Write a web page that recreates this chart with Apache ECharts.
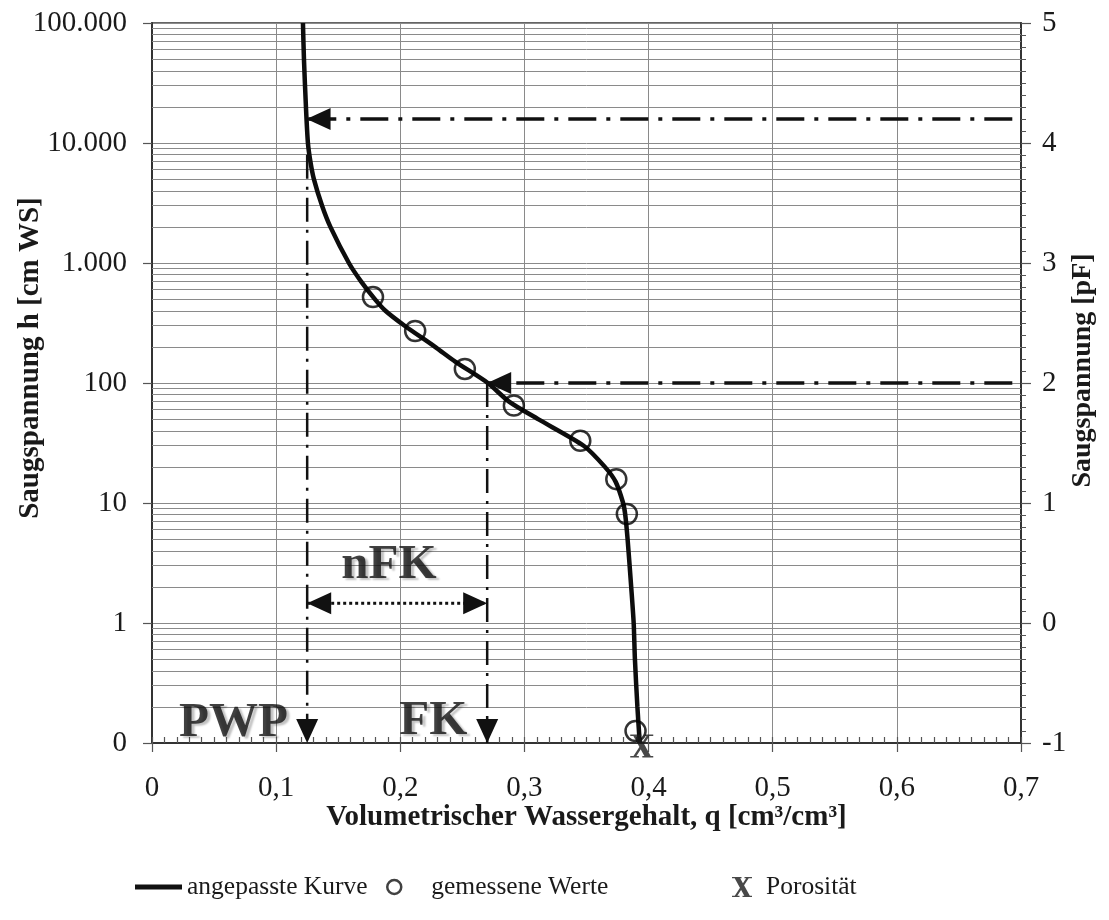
<!DOCTYPE html>
<html><head><meta charset="utf-8">
<script src="https://cdn.jsdelivr.net/npm/echarts@6/dist/echarts.min.js"></script>
<style>html,body{margin:0;padding:0;background:#fff}#c{width:1109px;height:920px}</style>
</head><body><div id="c"></div>
<script>
// ---- data ----
const curveH     = [100000, 50000, 20000, 10000, 7000, 5000, 3000, 2000, 1000, 700, 500, 400, 300, 200, 150, 100, 70, 50, 30, 20, 15, 10, 8, 5, 2, 1, 0.5, 0.2, 0.1];
const curveTheta = [0.1216, 0.1224, 0.124, 0.1256, 0.1276, 0.1304, 0.137, 0.1437, 0.1586, 0.1685, 0.1795, 0.188, 0.2035, 0.228, 0.2445, 0.2705, 0.2876, 0.311, 0.3477, 0.3648, 0.3735, 0.3795, 0.3812, 0.3831, 0.386, 0.388, 0.389, 0.391, 0.3929];
const measuredTheta = [0.178, 0.212, 0.252, 0.2915, 0.345, 0.374, 0.3825, 0.3895];
const measuredH     = [520, 271, 131, 65, 33, 15.8, 8.1, 0.126];
const porosityTheta = [0.3945];
const porosityH     = [0.1];
const pwpTheta = 0.125, fkTheta = 0.27;
const pf42H = 15849, pf2H = 100, nfkH = 1.46;
const guideRightTheta = 0.693, pwpTopH = 8000, axisMinH = 0.1;
const annoNames = ['PWP', 'FK', 'nFK'];
const annoTheta = [0.0656, 0.2266, 0.1908];
const annoH     = [0.158, 0.163, 3.29];
const xTickLabels = ['0', '0,1', '0,2', '0,3', '0,4', '0,5', '0,6', '0,7'];
const decades = [0.1, 1, 10, 100, 1000, 10000];
const minorFactors = [2, 3, 4, 5, 6, 7, 8, 9];
const legendNames = ['angepasste Kurve', 'gemessene Werte', 'Porosität'];

// ---- build ----
const serif = "'Liberation Serif', 'Times New Roman', 'DejaVu Serif', serif";
const txt = '#1a1a1a';
const gridLines = [];
decades.forEach(d => minorFactors.forEach(k => gridLines.push({ yAxis: +(k * d).toPrecision(3) })));
const curveData = curveTheta.map((t, i) => [t, curveH[i]]);
const measuredData = measuredTheta.map((t, i) => [t, measuredH[i]]);
const porosityData = porosityTheta.map((t, i) => [t, porosityH[i]]);
const annoData = annoNames.map((n, i) => ({ name: n, value: [annoTheta[i], annoH[i]] }));
const AR = [22, 24];
function arrow(x, y, dir) {
  const rot = { left: 90, right: -90, down: 180, up: 0 }[dir];
  const off = { left: [12, 0], right: [-12, 0], down: [0, -12], up: [0, 12] }[dir];
  return { value: [x, y], symbol: 'triangle', symbolSize: AR, symbolRotate: rot, symbolOffset: off };
}
function plain(x, y) { return { value: [x, y], symbol: 'none' }; }
const dashDotV = { color: '#111', width: 2.5, type: [24, 8, 3, 8] };
const dashDotH = { color: '#111', width: 3.5, type: [28, 10, 4, 10] };
const guide = (name, data, ls) => ({
  type: 'line', name, data, lineStyle: ls, itemStyle: { color: '#111' }, showSymbol: true,
  symbolKeepAspect: false, z: 4, silent: true, clip: false
});
const Xpath = 'path://M2,0H7.5L18.5,20H13Z M15,0H17.5L4.5,20H2Z M0,0H9.5V1.2H0Z M12.5,0H20V1.2H12.5Z M0,18.8H7.5V20H0Z M10.5,18.8H20V20H10.5Z';
const legendText = { fontFamily: serif, fontSize: 25.5, color: txt };

const chart = echarts.init(document.getElementById('c'), null, { renderer: 'canvas' });
chart.setOption({
  animation: false,
  backgroundColor: '#fff',
  textStyle: { fontFamily: serif, color: txt },
  grid: { left: 152, right: 88, top: 23, bottom: 177, show: true, borderColor: '#333', borderWidth: 1.5,
    containLabel: false, outerBoundsMode: 'none' },
  xAxis: [{
    type: 'value', min: 0, max: 0.7, interval: 0.1, position: 'bottom',
    name: 'Volumetrischer Wassergehalt, q [cm³/cm³]', nameLocation: 'middle', nameGap: 60, nameMoveOverlap: false,
    nameTextStyle: { fontFamily: serif, fontSize: 29, fontWeight: 'bold', color: txt },
    axisLine: { show: true, onZero: false, lineStyle: { color: '#333', width: 2 } },
    axisTick: { show: true, inside: false, length: 9, lineStyle: { color: '#555', width: 1.2 } },
    axisLabel: { fontFamily: serif, fontSize: 29, color: txt, margin: 31,
      formatter: v => xTickLabels[Math.round(v * 10)] },
    splitLine: { show: true, lineStyle: { color: '#8a8a8a', width: 1 } }
  }, {
    type: 'value', min: 0, max: 0.7, interval: 0.01, position: 'bottom',
    axisLine: { show: false, onZero: false }, axisLabel: { show: false }, splitLine: { show: false },
    axisTick: { show: true, inside: true, length: 6, lineStyle: { color: '#555', width: 1.2 } }
  }],
  yAxis: [{
    type: 'log', logBase: 10, min: 0.1, max: 100000, splitNumber: 6, position: 'left',
    name: 'Saugspannung h [cm WS]', nameLocation: 'middle', nameGap: 107, nameMoveOverlap: false,
    nameTextStyle: { fontFamily: serif, fontSize: 29, fontWeight: 'bold', color: txt, padding: [0, 0, 0, 50] },
    axisLine: { show: true, onZero: false, lineStyle: { color: '#333', width: 2 } },
    axisTick: { show: true, inside: false, length: 9, lineStyle: { color: '#555', width: 1.2 } },
    axisLabel: { fontFamily: serif, fontSize: 29, color: txt, margin: 25,
      formatter: v => { const r = Math.round(v); if (v < 1) return '0'; return String(r).replace(/\B(?=(\d{3})+(?!\d))/g, '.'); } },
    splitLine: { show: true, lineStyle: { color: '#8a8a8a', width: 1 } }
  }, {
    type: 'value', min: -1, max: 5, interval: 1, position: 'right',
    name: 'Saugspannung [pF]', nameLocation: 'middle', nameGap: 48, nameRotate: 90, nameMoveOverlap: false,
    nameTextStyle: { fontFamily: serif, fontSize: 28, fontWeight: 'bold', color: txt, padding: [0, 0, 0, 25] },
    axisLine: { show: true, onZero: false, lineStyle: { color: '#333', width: 2 } },
    axisTick: { show: true, inside: false, length: 10, lineStyle: { color: '#555', width: 1.2 } },
    minorTick: { show: true, splitNumber: 10, length: 5, lineStyle: { color: '#555', width: 1 } },
    axisLabel: { fontFamily: serif, fontSize: 29, color: txt, margin: 21 },
    splitLine: { show: false }
  }],
  legend: [
    { data: [{ name: legendNames[0], icon: 'rect' }], left: 130, top: 869, itemWidth: 47, itemHeight: 5,
      textStyle: legendText, selectedMode: false, itemStyle: { color: '#111' } },
    { data: [legendNames[1]], left: 381, top: 869, itemWidth: 14, itemHeight: 14,
      textStyle: Object.assign({ padding: [0, 0, 0, 25] }, legendText), selectedMode: false,
      itemStyle: { color: 'transparent', borderColor: '#111', borderWidth: 2.5 } },
    { data: [legendNames[2]], left: 727, top: 869, itemWidth: 20, itemHeight: 20,
      textStyle: Object.assign({ padding: [0, 0, 0, 9] }, legendText), selectedMode: false }
  ],
  series: [
    { type: 'line', name: 'grid', data: [], silent: true,
      markLine: { silent: true, symbol: ['none', 'none'], z: 1, label: { show: false },
        lineStyle: { color: '#8a8a8a', width: 1, type: 'solid' }, emphasis: { disabled: true }, data: gridLines } },
    guide('pwp', [plain(pwpTheta, pwpTopH), arrow(pwpTheta, axisMinH, 'down')], dashDotV),
    guide('fk', [plain(fkTheta, pf2H), arrow(fkTheta, axisMinH, 'down')], dashDotV),
    guide('pf42', [plain(guideRightTheta, pf42H), arrow(curveTheta[2] + 0.0005, pf42H, 'left')], dashDotH),
    guide('pf2', [plain(guideRightTheta, pf2H), arrow(fkTheta, pf2H, 'left')], dashDotH),
    guide('nfk', [arrow(pwpTheta, nfkH, 'left'), arrow(fkTheta, nfkH, 'right')], { color: '#111', width: 3, type: [3, 3] }),
    { type: 'line', name: legendNames[0], data: curveData, smooth: 0.25, symbol: 'none', z: 5,
      lineStyle: { color: '#0d0d0d', width: 4.5 }, itemStyle: { color: '#0d0d0d' }, silent: true, clip: false },
    { type: 'scatter', name: legendNames[1], data: measuredData, symbol: 'circle', symbolSize: 20, z: 6,
      itemStyle: { color: 'transparent', borderColor: '#000', borderWidth: 2.5 }, silent: true, clip: false },
    { type: 'scatter', name: legendNames[2], data: porosityData, symbol: Xpath, symbolSize: [23, 23], symbolOffset: [0, 3], z: 6,
      itemStyle: { color: '#1a1a1a' }, silent: true, clip: false },
    { type: 'scatter', name: 'anno', data: annoData, symbolSize: 0, z: 7, silent: true, clip: false,
      label: { show: true, position: 'inside', offset: [0, 4], formatter: p => p.name, fontFamily: serif, fontSize: 49, fontWeight: 'bold',
        color: '#111', textShadowColor: 'rgba(0,0,0,0.3)', textShadowOffsetX: 3, textShadowOffsetY: 2, textShadowBlur: 2 } }
  ]
});
</script></body></html>
